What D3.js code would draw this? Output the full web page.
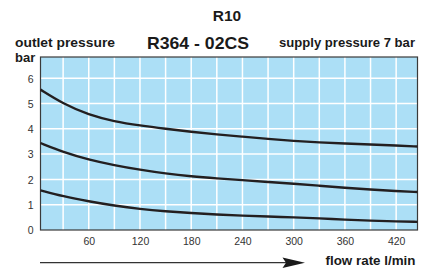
<!DOCTYPE html>
<html><head><meta charset="utf-8">
<script src="https://cdn.jsdelivr.net/npm/d3@7"></script>
<style>html,body{margin:0;padding:0;background:#fff;}svg{display:block;}</style>
</head><body>
<script>
const flow = [3.5, 30, 60, 90, 120, 150, 180, 210, 240, 270, 300, 330, 360, 390, 420, 445];
const curveHigh = [5.55, 4.99, 4.55, 4.29, 4.13, 4.00, 3.88, 3.78, 3.69, 3.60, 3.52, 3.46, 3.42, 3.38, 3.34, 3.30];
const curveMid  = [3.44, 3.08, 2.78, 2.56, 2.38, 2.23, 2.12, 2.04, 1.97, 1.90, 1.83, 1.75, 1.67, 1.60, 1.54, 1.50];
const curveLow  = [1.57, 1.33, 1.13, 0.96, 0.83, 0.74, 0.67, 0.61, 0.57, 0.53, 0.50, 0.46, 0.41, 0.37, 0.34, 0.32];
const xTicks = [60, 120, 180, 240, 300, 360, 420];
const xGrid = [30, 60, 90, 120, 150, 180, 210, 240, 270, 300, 330, 360, 390, 420];
const yTicks = [0, 1, 2, 3, 4, 5, 6];

const W = 429, H = 269;
const L = 40.5, R = 417.5, T = 57, B = 230;
const svg = d3.select("body").append("svg").attr("width", W).attr("height", H);
const x = d3.scaleLinear().domain([3.5, 445]).range([L, R]);
const y = d3.scaleLinear().domain([0, 6.84]).range([B, T]);
const font = "'Liberation Sans', Arial, Helvetica, sans-serif";

svg.append("rect").attr("x", L).attr("y", T).attr("width", R - L).attr("height", B - T).attr("fill", "#acdff6");
svg.append("g").selectAll("line").data(xGrid).join("line")
  .attr("x1", d => x(d)).attr("x2", d => x(d)).attr("y1", T).attr("y2", B)
  .attr("stroke", "#fff").attr("stroke-width", 1.5);
svg.append("g").selectAll("line").data(yTicks.slice(1)).join("line")
  .attr("x1", L).attr("x2", R).attr("y1", d => y(d)).attr("y2", d => y(d))
  .attr("stroke", "#fff").attr("stroke-width", 1.5);
svg.append("rect").attr("x", L).attr("y", T).attr("width", R - L).attr("height", B - T)
  .attr("fill", "none").attr("stroke", "#3a3a3a").attr("stroke-width", 1.2);

const line = d3.line().x((d, i) => x(flow[i])).y(d => y(d)).curve(d3.curveBasis);
[curveHigh, curveMid, curveLow].forEach(s => {
  svg.append("path").attr("d", line(s)).attr("fill", "none").attr("stroke", "#231f20").attr("stroke-width", 2.4);
});

// axes (labels only)
const xAxis = d3.axisBottom(x).tickValues(xTicks).tickSize(0).tickPadding(0).tickFormat(d3.format("d"));
const gx = svg.append("g").attr("transform", `translate(0,${B})`).call(xAxis);
gx.select(".domain").remove();
gx.selectAll("text").attr("dy", null).attr("y", 15).attr("font-family", font).attr("font-size", 10.5).attr("fill", "#333");
const yAxis = d3.axisLeft(y).tickValues(yTicks).tickSize(0).tickPadding(0).tickFormat(d3.format("d"));
const gy = svg.append("g").attr("transform", `translate(${L},0)`).call(yAxis);
gy.select(".domain").remove();
gy.selectAll("text").attr("x", -7).attr("dy", "0.36em").attr("font-family", font).attr("font-size", 10.5).attr("fill", "#333");

function txt(t, xx, yy, size, anchor, len) {
  const e = svg.append("text").attr("x", xx).attr("y", yy).attr("font-family", font).attr("font-weight", "bold")
    .attr("font-size", size).attr("text-anchor", anchor).attr("fill", "#1a1a1a").text(t);
  if (len) e.attr("textLength", len).attr("lengthAdjust", "spacingAndGlyphs");
  return e;
}
txt("R10", 227, 21, 15.5, "middle");
txt("R364 - 02CS", 198, 48.5, 17, "middle", 102);
txt("outlet pressure", 15, 46.5, 13, "start", 100);
txt("bar", 15, 61.5, 13, "start");
txt("supply pressure 7 bar", 415, 46.5, 13, "end", 136);
txt("flow rate l/min", 415.5, 264.5, 13, "end", 90);

// arrow
svg.append("line").attr("x1", 40).attr("x2", 290).attr("y1", 262.7).attr("y2", 262.7).attr("stroke", "#333").attr("stroke-width", 1.2);
svg.append("path").attr("d", "M305,262.7 L282.5,257.5 L286,262.7 L282.5,268 Z").attr("fill", "#1a1a1a");
</script>
</body></html>
